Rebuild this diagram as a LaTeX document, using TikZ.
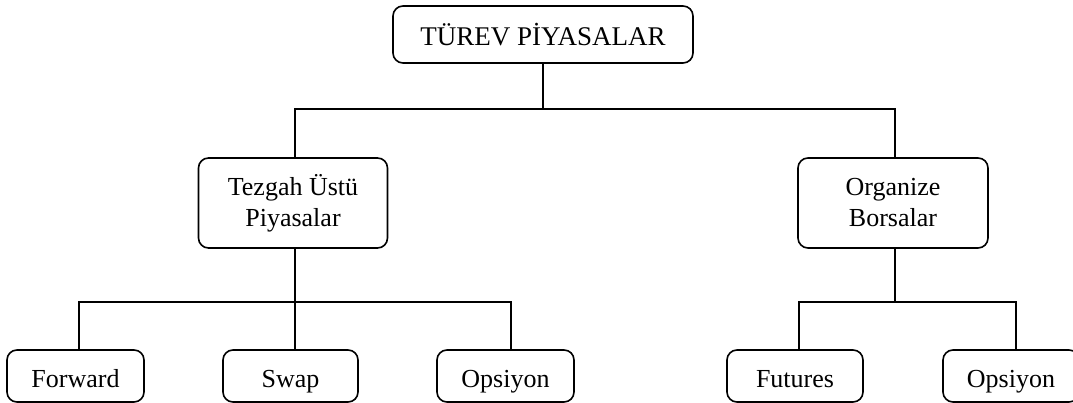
\documentclass[tikz,border=0pt]{standalone}
\usepackage{fontspec}
\setmainfont{Liberation Serif}
\begin{document}
\begin{tikzpicture}[x=1pt,y=1pt,
  box/.style={draw, line width=1.6pt, rounded corners=10pt, align=center,
    inner sep=0pt, font=\fontsize{26}{31}\selectfont},
  leaf/.style={box, minimum height=52, text height=22, text depth=0},
  link/.style={line width=1.6pt}]
\useasboundingbox (0,0) rectangle (1073,-403);
\clip (0,0) rectangle (1073,-403);

% root
\node[box, minimum width=300, minimum height=57, font=\fontsize{27}{32}\selectfont] (root) at (543,-34.5) {TÜREV PİYASALAR};

% second level
\node[box, minimum width=189, minimum height=90] (otc) at (293,-203) {Tezgah Üstü\\Piyasalar};
\node[box, minimum width=190, minimum height=90] (org) at (893,-203) {Organize\\Borsalar};

% leaves
\node[leaf, minimum width=137] (fwd) at (75.5,-376) {Forward};
\node[leaf, minimum width=135] (swap) at (290.5,-376) {Swap};
\node[leaf, minimum width=137] (opt1) at (505.5,-376) {Opsiyon};
\node[leaf, minimum width=136] (fut) at (795,-376) {Futures};
\node[leaf, minimum width=136] (opt2) at (1011,-376) {Opsiyon};

% bus junctions
\coordinate (bus0) at (543,-109);
\coordinate (bus1) at (295,-302);
\coordinate (bus2) at (895,-302);

% root to second level
\draw[link] (root.south) -- (bus0);
\draw[link] ([xshift=2pt]otc.north) |- (bus0) -| ([xshift=2pt]org.north);

% OTC branch
\draw[link] ([xshift=2pt]otc.south) -- (bus1);
\draw[link] ([xshift=3.5pt]fwd.north) |- (bus1) -| ([xshift=5.5pt]opt1.north);
\draw[link] ([xshift=4.5pt]swap.north) -- ([xshift=4.5pt]swap.north |- bus1);

% exchange branch
\draw[link] ([xshift=2pt]org.south) -- (bus2);
\draw[link] ([xshift=4pt]fut.north) |- (bus2) -| ([xshift=5pt]opt2.north);
\end{tikzpicture}
\end{document}
